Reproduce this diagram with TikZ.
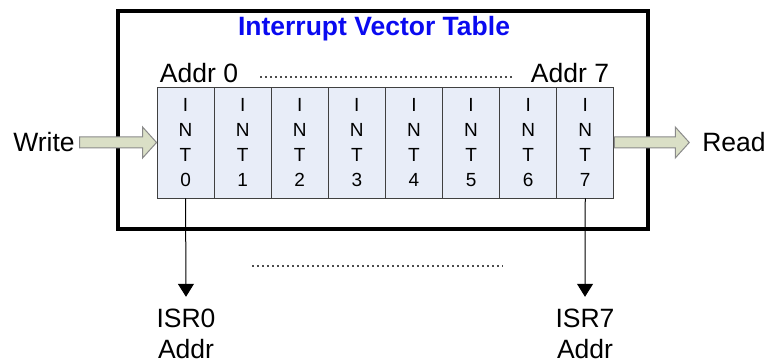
\documentclass[tikz,border=0pt]{standalone}
\usepackage{fontspec}
\setmainfont{Liberation Sans}
\usetikzlibrary{arrows.meta,calc}
\definecolor{cellfill}{HTML}{E8EDF8}
\definecolor{cellline}{HTML}{404040}
\definecolor{fatfill}{HTML}{DADFC6}
\definecolor{fatline}{HTML}{8A8A8A}
\definecolor{titleblue}{HTML}{0A0AF0}
\tikzset{
  lbl/.style={inner sep=0pt, text height=19pt, text depth=0pt,
    font=\fontsize{26.5}{30}\selectfont},
  cell/.style={draw=cellline, line width=0.9pt, fill=cellfill, inner sep=0pt,
    minimum width=57.1pt, minimum height=111pt, align=center,
    font=\fontsize{19}{24.8}\selectfont},
  fat/.style={draw=fatline, fill=fatfill, line width=1pt, line join=miter},
  dots/.style={line width=2pt, dash pattern=on 1.8pt off 3.2pt, draw=black!70},
  ptr/.style={line width=1pt, -{Triangle[length=13pt,width=16pt]}},
}
\begin{document}
\begin{tikzpicture}[x=1pt,y=-1pt]
\useasboundingbox (0,0) rectangle (768,363);
% table frame
\draw[line width=4pt] (118,11) rectangle (648,229);
\node[lbl, font=\fontsize{26.5}{30}\selectfont\bfseries, text=titleblue] (title) at (374,26.5) {Interrupt Vector Table};
\node[lbl] (a0) at (199,73.5) {Addr 0};
\node[lbl] (a7) at (570,73.5) {Addr 7};
\draw[dots] (260,77.5) -- (512,77.5);
% the eight vector slots
\foreach \i in {0,...,7} {
  \node[cell] (c\i) at ({157+28.55+57.1*\i},142.5) {I\\N\\T\\\i};
}
% write / read ports
\node[lbl] (write) at (44,142) {Write};
\node[lbl] (read) at (734,142) {Read};
\draw[fat] ($(c0.west)+(-77,-5.5)$) -- ($(c0.west)+(-14,-5.5)$) -- ($(c0.west)+(-14,-15.5)$)
  -- (c0.west) -- ($(c0.west)+(-14,15.5)$) -- ($(c0.west)+(-14,5.5)$) -- ($(c0.west)+(-77,5.5)$) -- cycle;
\draw[fat] ($(c7.east)+(0,-5.5)$) -- ($(c7.east)+(61,-5.5)$) -- ($(c7.east)+(61,-15.5)$)
  -- ($(c7.east)+(75,0)$) -- ($(c7.east)+(61,15.5)$) -- ($(c7.east)+(61,5.5)$) -- ($(c7.east)+(0,5.5)$) -- cycle;
% service routine addresses
\node[lbl] (isr0) at (186,317.5) {ISR0};
\node[lbl] (isr0a) at (186,349) {Addr};
\node[lbl] (isr7) at (585,317.5) {ISR7};
\node[lbl] (isr7a) at (585,349) {Addr};
\draw[ptr] (c0.south) -- ($(isr0.north)+(0,-11)$);
\draw[ptr] (c7.south) -- ($(isr7.north)+(0,-11)$);
\draw[dots] (252,266) -- (503,266);
\end{tikzpicture}
\end{document}
